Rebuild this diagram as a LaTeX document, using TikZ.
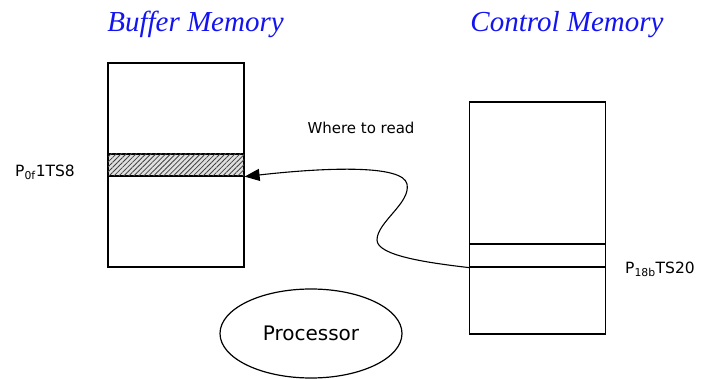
\documentclass[tikz,border=0pt]{standalone}
\usepackage{fontspec}
\setmainfont{DejaVu Sans}
\newfontfamily\titlefont{Liberation Serif}
\usetikzlibrary{shapes.geometric,patterns.meta,arrows.meta}
\definecolor{titleblue}{RGB}{20,20,240}
\tikzset{
  memblock/.style={draw, line width=1.2pt, inner sep=0pt},
  title/.style={text=titleblue, anchor=base, inner sep=0pt,
                font=\titlefont\itshape\fontsize{29}{34}\selectfont},
  lbl/.style={inner sep=0pt, font=\fontsize{15.5}{18}\selectfont},
  link/.style={line width=1.1pt, -{Triangle[length=15pt,width=12pt]}},
}
\begin{document}
\begin{tikzpicture}[x=1pt,y=-1pt]
  \useasboundingbox (0,0) rectangle (701,379);

  % headings
  \node[title] (bufT) at (195.5,32) {Buffer Memory};
  \node[title] (ctlT) at (567,32) {Control Memory};

  % buffer memory with the hatched slot
  \node[memblock, minimum width=136pt, minimum height=204pt] (buf) at (176,165) {};
  \node[memblock, fill=black!12,
        postaction={pattern={Lines[angle=45,distance=3.5pt,line width=0.8pt]},
                    pattern color=black!75},
        minimum width=136pt, minimum height=22pt] (slot) at (176,165) {};
  \node[lbl, anchor=west] (slotL) at (15,172) {P\textsubscript{0f}1TS8};

  % control memory with its entry
  \node[memblock, minimum width=136pt, minimum height=232pt] (ctl) at (537.5,218) {};
  \node[memblock, minimum width=136pt, minimum height=23pt] (entry) at (537.5,255.5) {};
  \node[lbl, anchor=west] (entryL) at (625,269) {P\textsubscript{18b}TS20};

  % pointer from the control entry to the buffer slot
  \node[lbl, font=\fontsize{15}{18}\selectfont] (where) at (361,128) {Where to read};
  \draw[link] (entry.south west)
     .. controls (430,263) and (377,256) .. (377,240)
     .. controls (377,222) and (411,203) .. (407,184)
     .. controls (403,165) and (330,167) .. (slot.south east);

  % processor
  \node[draw, ellipse, line width=1.2pt, minimum width=182pt, minimum height=89pt,
        inner sep=0pt, font=\fontsize{20}{24}\selectfont] (proc) at (311,333.5) {Processor};
\end{tikzpicture}
\end{document}
